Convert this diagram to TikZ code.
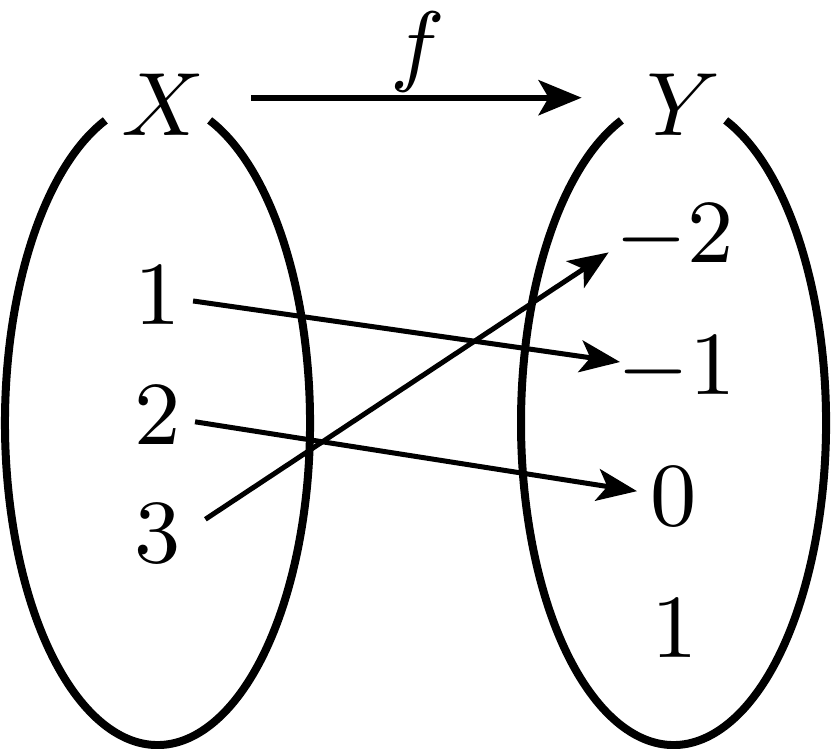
\documentclass[tikz,border=0pt]{standalone}
\usetikzlibrary{arrows.meta}
\begin{document}
\begin{tikzpicture}[x=0.1pt,y=0.1pt,>={Stealth[length=4pt,width=3.2pt,inset=1pt]}]
\tikzstyle{elem}=[inner sep=0pt,anchor=base,font=\fontsize{9.5}{11}\selectfont]
\tikzstyle{set}=[line width=.8pt]
\tikzstyle{map}=[->,line width=.5pt]
\useasboundingbox (0,0) rectangle (831,749);
\draw[set] (157.5,326) ++(110:15.25pt and 32.2pt)
    arc[start angle=110,end angle=430,x radius=15.25pt,y radius=32.2pt];
\draw[set] (673.5,326) ++(110:15.25pt and 32.2pt)
    arc[start angle=110,end angle=430,x radius=15.25pt,y radius=32.2pt];
\node[elem] (X) at (163,613) {$X$};
\node[elem] (Y) at (684,613) {$Y$};
\node[elem] (x1) at (158,424) {$1$};
\node[elem] (x2) at (158,304) {$2$};
\node[elem] (x3) at (158,186) {$3$};
\node[elem] (y1) at (675,486) {$-2$};
\node[elem] (y2) at (677,354) {$-1$};
\node[elem] (y3) at (674,223) {$0$};
\node[elem] (y4) at (675,91) {$1$};
\draw[->,line width=.6pt,>={Stealth[length=4.3pt,width=3.5pt,inset=1pt]},
    shorten <=4.45pt,shorten >=6.33pt] ([yshift=.75pt]X.east) -- ([yshift=.75pt]Y.west)
    node[elem,midway,above=.3pt,xshift=-.75pt] (f) {$f$};
\draw[map,shorten <=3.54pt,shorten >=5.76pt] (x1.center) -- (y2.center);
\draw[map,shorten <=3.75pt,shorten >=3.75pt] (x2.center) -- (y3.center);
\draw[map,shorten <=2.67pt,shorten >=.64pt] (x3.east) -- (y1.190);
\end{tikzpicture}
\end{document}
